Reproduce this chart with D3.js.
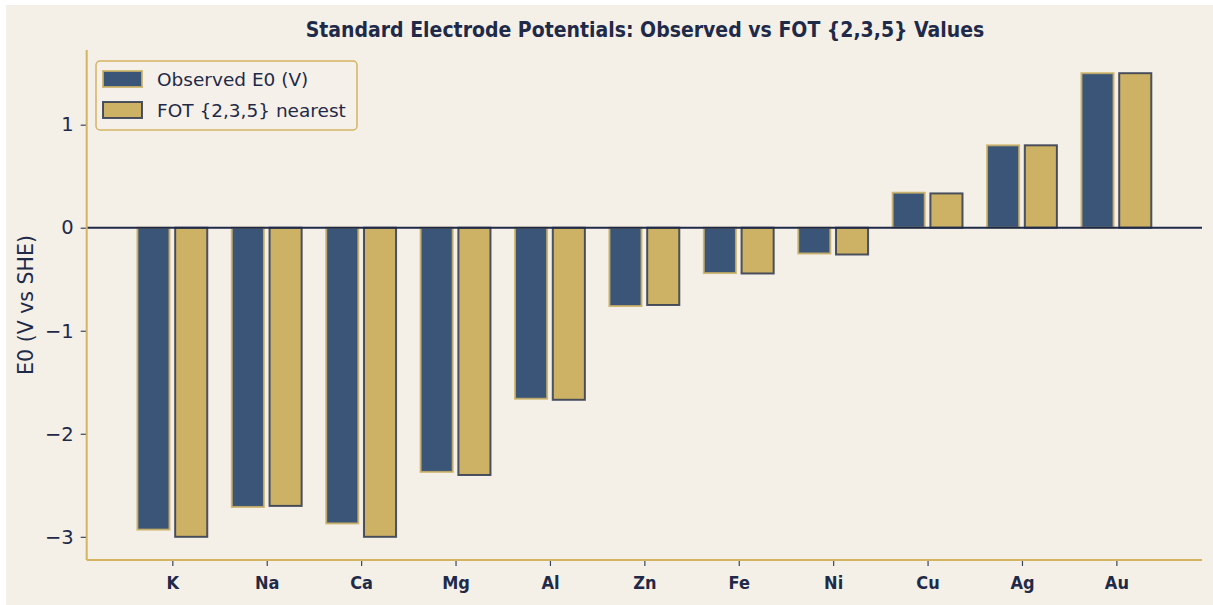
<!DOCTYPE html>
<html>
<head>
<meta charset="utf-8">
<script src="https://cdn.jsdelivr.net/npm/d3@7"></script>
<style>
  body { margin: 0; background: #ffffff; }
  svg { display: block; }
  text { font-family: "DejaVu Sans", sans-serif; fill: #1f2a48; }
  .cond { font-stretch: condensed; }
</style>
</head>
<body>
<svg id="chart" width="1213" height="605"></svg>
<script>
// chart data
var elements = ["K", "Na", "Ca", "Mg", "Al", "Zn", "Fe", "Ni", "Cu", "Ag", "Au"];
var observed = [-2.93, -2.71, -2.87, -2.37, -1.66, -0.76, -0.44, -0.25, 0.34, 0.80, 1.50];
var fotNearest = [-3.0, -2.7, -3.0, -2.4, -1.67, -0.75, -0.444, -0.26, 0.333, 0.80, 1.50];
var seriesNames = ["Observed E0 (V)", "FOT {2,3,5} nearest"];
var yTicks = [-3, -2, -1, 0, 1];

var navy = "#3b5578", gold = "#cdb165", ink = "#1f2a48";
var spineCol = "#d4b461";

var svg = d3.select("#chart");
var width = 1213, height = 605;

// beige backdrop (reference has a thin white border)
svg.append("rect")
  .attr("x", 6).attr("y", 5)
  .attr("width", width - 6).attr("height", height - 5)
  .attr("fill", "#f4f0e8");

var plotL = 86.7, plotR = 1202, plotT = 50, plotB = 560;

// x positions in category units, like matplotlib: bars at i-0.2 / i+0.2
var x = d3.scaleLinear().domain([-0.907, 10.907]).range([plotL, plotR]);
var y = d3.scaleLinear().domain([-3.225, 1.725]).range([plotB, plotT]);
var barW = 0.34;

var chart = svg.append("g");

// observed bars
chart.append("g").selectAll("rect")
  .data(observed)
  .enter().append("rect")
  .attr("x", function(d, i) { return x(i - 0.2 - barW / 2); })
  .attr("width", function() { return x(barW) - x(0); })
  .attr("y", function(d) { return y(Math.max(d, 0)); })
  .attr("height", function(d) { return Math.abs(y(d) - y(0)); })
  .attr("fill", navy)
  .attr("stroke", gold)
  .attr("stroke-opacity", 0.85)
  .attr("stroke-width", 2);

// FOT bars
chart.append("g").selectAll("rect")
  .data(fotNearest)
  .enter().append("rect")
  .attr("x", function(d, i) { return x(i + 0.2 - barW / 2); })
  .attr("width", function() { return x(barW) - x(0); })
  .attr("y", function(d) { return y(Math.max(d, 0)); })
  .attr("height", function(d) { return Math.abs(y(d) - y(0)); })
  .attr("fill", gold)
  .attr("stroke", "#2f3850")
  .attr("stroke-opacity", 0.85)
  .attr("stroke-width", 2);

// zero line
chart.append("line")
  .attr("x1", plotL).attr("x2", plotR)
  .attr("y1", y(0)).attr("y2", y(0))
  .attr("stroke", ink)
  .attr("stroke-width", 2);

// y axis
var yAxis = svg.append("g")
  .attr("transform", "translate(" + [plotL, 0] + ")")
  .call(d3.axisLeft(y).tickValues(yTicks).tickSize(6).tickPadding(7)
    .tickFormat(function(d) { return d < 0 ? "\u2212" + Math.abs(d) : d; }));
yAxis.select(".domain").remove();
yAxis.selectAll(".tick line").attr("stroke", "#3a4560").attr("stroke-width", 1.2);
yAxis.selectAll(".tick text")
  .attr("font-size", 19.5)
  .attr("font-family", "DejaVu Sans")
  .attr("fill", ink);

// x axis
var xAxis = svg.append("g")
  .attr("transform", "translate(" + [0, plotB] + ")")
  .call(d3.axisBottom(x).tickValues(d3.range(elements.length)).tickSize(6).tickPadding(10)
    .tickFormat(function(d) { return elements[d]; }));
xAxis.select(".domain").remove();
xAxis.selectAll(".tick line").attr("stroke", "#3a4560").attr("stroke-width", 1.2);
xAxis.selectAll(".tick text")
  .attr("class", "cond")
  .attr("font-size", 18)
  .attr("font-weight", "bold")
  .attr("font-family", "DejaVu Sans")
  .attr("fill", ink);

// spines (left and bottom only)
svg.append("line")
  .attr("x1", plotL).attr("x2", plotL).attr("y1", plotT).attr("y2", plotB)
  .attr("stroke", spineCol).attr("stroke-width", 2);
svg.append("line")
  .attr("x1", plotL).attr("x2", plotR).attr("y1", plotB).attr("y2", plotB)
  .attr("stroke", spineCol).attr("stroke-width", 2);

// y label
svg.append("text")
  .attr("transform", "translate(" + [33, (plotT + plotB) / 2] + ") rotate(-90)")
  .attr("text-anchor", "middle")
  .attr("font-size", 20.5)
  .attr("fill", "#2a3550")
  .text("E0 (V vs SHE)");

// title
svg.append("text")
  .attr("class", "cond")
  .attr("x", 645).attr("y", 37)
  .attr("text-anchor", "middle")
  .attr("font-size", 21)
  .attr("font-weight", "bold")
  .text("Standard Electrode Potentials: Observed vs FOT {2,3,5} Values");

// legend
var legend = svg.append("g").attr("transform", "translate(" + [96, 61] + ")");
legend.append("rect")
  .attr("width", 261).attr("height", 69)
  .attr("rx", 4)
  .attr("fill", "#f5f1ea")
  .attr("stroke", spineCol)
  .attr("stroke-width", 1.5);

var legendFill = [navy, gold];
var legendStroke = [gold, "#2f3850"];
seriesNames.forEach(function(name, i) {
  legend.append("rect")
    .attr("x", 7).attr("y", 10 + i * 31)
    .attr("width", 39).attr("height", 16)
    .attr("fill", legendFill[i])
    .attr("stroke", legendStroke[i])
    .attr("stroke-opacity", 0.85)
    .attr("stroke-width", 2);
  legend.append("text")
    .attr("x", 61).attr("y", 25 + i * 31)
    .attr("font-size", 18.5)
    .text(name);
});
</script>
</body>
</html>
